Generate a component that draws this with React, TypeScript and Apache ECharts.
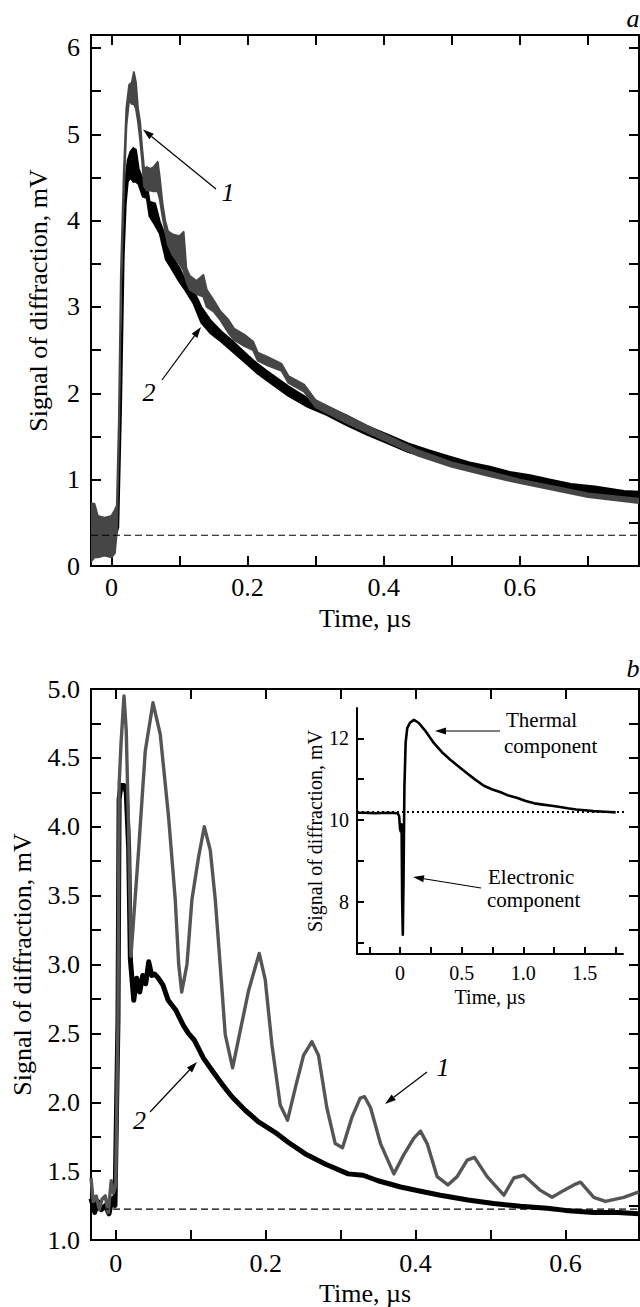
import React, { useEffect, useRef } from 'react';
import * as echarts from 'echarts';

const FONT = "'Liberation Serif', 'Times New Roman', Times, serif";

// ---------- Panel a (noisy bands: time, lower edge, upper edge) ----------
const aTimeGray = [-0.03, -0.025, -0.02, -0.01, 0, 0.005, 0.008, 0.011, 0.014, 0.018, 0.022, 0.026, 0.03, 0.033, 0.036, 0.039, 0.042, 0.045, 0.048, 0.052, 0.057, 0.062, 0.068, 0.071, 0.075, 0.079, 0.083, 0.09, 0.1, 0.106, 0.11, 0.115, 0.125, 0.135, 0.14, 0.15, 0.16, 0.172, 0.18, 0.195, 0.208, 0.215, 0.23, 0.25, 0.26, 0.283, 0.3, 0.35, 0.4, 0.45, 0.5, 0.55, 0.6, 0.65, 0.7, 0.775];
const aLowGray = [0.05, 0.1, 0.1, 0.12, 0.1, 0.15, 0.4, 1.5, 3.2, 4.3, 5.1, 5.4, 5.35, 5.35, 5.3, 5.15, 4.95, 4.7, 4.4, 4.35, 4.35, 4.34, 4.34, 4.25, 4.05, 3.88, 3.72, 3.6, 3.5, 3.42, 3.3, 3.2, 3.15, 3.12, 3.0, 2.95, 2.85, 2.7, 2.62, 2.55, 2.5, 2.38, 2.32, 2.26, 2.12, 2.02, 1.84, 1.64, 1.46, 1.28, 1.15, 1.05, 0.96, 0.88, 0.8, 0.73];
const aHighGray = [0.72, 0.72, 0.58, 0.56, 0.58, 0.65, 0.7, 1.7, 3.4, 4.5, 5.3, 5.57, 5.6, 5.72, 5.6, 5.3, 5.15, 4.85, 4.6, 4.62, 4.6, 4.62, 4.68, 4.5, 4.2, 4.0, 3.88, 3.84, 3.82, 3.87, 3.45, 3.36, 3.3, 3.37, 3.2, 3.08, 2.95, 2.85, 2.75, 2.68, 2.6, 2.47, 2.42, 2.34, 2.2, 2.1, 1.92, 1.72, 1.53, 1.34, 1.2, 1.1, 1.0, 0.92, 0.84, 0.78];

const aTimeBlack = [-0.03, 0.005, 0.01, 0.014, 0.018, 0.021, 0.024, 0.028, 0.032, 0.036, 0.04, 0.046, 0.052, 0.056, 0.064, 0.071, 0.08, 0.088, 0.1, 0.108, 0.12, 0.132, 0.145, 0.161, 0.18, 0.196, 0.213, 0.23, 0.26, 0.289, 0.316, 0.346, 0.376, 0.406, 0.436, 0.466, 0.496, 0.526, 0.556, 0.585, 0.615, 0.645, 0.675, 0.71, 0.753, 0.775];
const aLowBlack = [0.3, 0.3, 0.45, 1.8, 3.6, 4.2, 4.45, 4.5, 4.45, 4.45, 4.42, 4.28, 4.26, 4.05, 3.95, 3.85, 3.55, 3.45, 3.29, 3.2, 3.05, 2.82, 2.7, 2.6, 2.47, 2.36, 2.24, 2.14, 1.97, 1.84, 1.75, 1.63, 1.52, 1.42, 1.32, 1.25, 1.17, 1.11, 1.06, 1.0, 0.95, 0.9, 0.85, 0.82, 0.78, 0.77];
const aHighBlack = [0.45, 0.45, 0.6, 2.0, 3.8, 4.5, 4.7, 4.8, 4.84, 4.82, 4.6, 4.48, 4.42, 4.22, 4.2, 3.99, 3.8, 3.6, 3.45, 3.32, 3.2, 3.0, 2.85, 2.72, 2.59, 2.47, 2.35, 2.25, 2.08, 1.94, 1.85, 1.74, 1.62, 1.52, 1.42, 1.34, 1.27, 1.2, 1.15, 1.09, 1.05, 1.0, 0.95, 0.92, 0.87, 0.86];

const aBaseline = 0.356;
const aXTicks = [0, 0.1, 0.2, 0.3, 0.4, 0.5, 0.6, 0.7];
const aXLabels = [0, 0.2, 0.4, 0.6];
const aYTicks = [0, 0.5, 1, 1.5, 2, 2.5, 3, 3.5, 4, 4.5, 5, 5.5, 6];
const aYLabels = [0, 1, 2, 3, 4, 5, 6];

// ---------- Panel b ----------
const bTimeGray = [-0.033, -0.03, -0.026, -0.022, -0.018, -0.014, -0.01, -0.006, -0.003, 0, 0.003, 0.0045, 0.007, 0.011, 0.014, 0.0172, 0.0203, 0.0305, 0.0394, 0.0497, 0.0594, 0.0705, 0.0794, 0.084, 0.088, 0.095, 0.1016, 0.1105, 0.1181, 0.1261, 0.1328, 0.1394, 0.1461, 0.1559, 0.1661, 0.1772, 0.1861, 0.1914, 0.1994, 0.2083, 0.2194, 0.2292, 0.2394, 0.2505, 0.2617, 0.2705, 0.2816, 0.2928, 0.3025, 0.315, 0.3261, 0.332, 0.3399, 0.3532, 0.371, 0.3843, 0.3977, 0.4065, 0.4154, 0.4288, 0.443, 0.4554, 0.4688, 0.4785, 0.4954, 0.5177, 0.531, 0.5444, 0.5665, 0.5821, 0.5977, 0.611, 0.6199, 0.6377, 0.6532, 0.6777, 0.698];
const bValGray = [1.45, 1.28, 1.32, 1.22, 1.3, 1.32, 1.2, 1.43, 1.34, 1.4, 2.6, 4.3, 4.6, 4.95, 4.7, 3.97, 3.06, 3.83, 4.55, 4.9, 4.67, 4.07, 3.47, 3.0, 2.8, 3.0, 3.47, 3.78, 4.0, 3.83, 3.47, 2.99, 2.49, 2.25, 2.52, 2.81, 2.98, 3.08, 2.89, 2.42, 1.98, 1.87, 2.1, 2.34, 2.44, 2.34, 1.96, 1.7, 1.67, 1.89, 2.03, 2.04, 1.96, 1.7, 1.48, 1.62, 1.74, 1.79, 1.7, 1.46, 1.4, 1.46, 1.58, 1.6, 1.46, 1.325, 1.45, 1.47, 1.36, 1.31, 1.36, 1.4, 1.42, 1.31, 1.28, 1.31, 1.35];

const bTimeBlack = [-0.033, -0.028, -0.024, -0.019, -0.014, -0.009, -0.005, -0.001, 0.003, 0.0045, 0.007, 0.011, 0.014, 0.0172, 0.0195, 0.024, 0.028, 0.032, 0.036, 0.04, 0.044, 0.048, 0.052, 0.057, 0.063, 0.07, 0.08, 0.09, 0.097, 0.105, 0.117, 0.13, 0.142, 0.155, 0.173, 0.19, 0.213, 0.23, 0.253, 0.28, 0.31, 0.33, 0.35, 0.38, 0.41, 0.433, 0.47, 0.504, 0.54, 0.5755, 0.6, 0.6377, 0.67, 0.698];
const bValBlack = [1.3, 1.2, 1.28, 1.22, 1.25, 1.19, 1.3, 1.25, 2.6, 4.2, 4.3, 4.3, 4.25, 3.85, 3.04, 2.74, 2.9, 2.8, 2.92, 2.86, 3.02, 2.92, 2.93, 2.9, 2.85, 2.74, 2.67, 2.56, 2.5, 2.45, 2.32, 2.22, 2.13, 2.04, 1.94, 1.86, 1.78, 1.71, 1.625, 1.55, 1.48, 1.47, 1.43, 1.385, 1.35, 1.325, 1.29, 1.265, 1.245, 1.23, 1.215, 1.2, 1.2, 1.19];

const bBaseline = 1.224;
const bXTicks = [0, 0.1, 0.2, 0.3, 0.4, 0.5, 0.6];
const bXLabels = [0, 0.2, 0.4, 0.6];
const bYTicks = [1, 1.25, 1.5, 1.75, 2, 2.25, 2.5, 2.75, 3, 3.25, 3.5, 3.75, 4, 4.25, 4.5, 4.75, 5];
const bYLabels = [1, 1.5, 2, 2.5, 3, 3.5, 4, 4.5, 5];

// ---------- Inset ----------
const insetTime = [-0.35, -0.3, -0.2, -0.1, -0.02, -0.008, 0, 0.006, 0.012, 0.017, 0.022, 0.028, 0.035, 0.045, 0.058, 0.08, 0.112, 0.15, 0.2, 0.275, 0.34, 0.41, 0.48, 0.546, 0.61, 0.68, 0.75, 0.817, 0.88, 0.953, 1.02, 1.09, 1.16, 1.23, 1.3, 1.36, 1.43, 1.5, 1.57, 1.63, 1.7, 1.75];
const insetVal = [10.18, 10.18, 10.17, 10.18, 10.17, 10.1, 9.78, 9.72, 9.9, 8.0, 7.2, 8.6, 10.8, 11.9, 12.25, 12.38, 12.45, 12.38, 12.2, 11.88, 11.66, 11.47, 11.3, 11.14, 10.99, 10.84, 10.75, 10.68, 10.6, 10.54, 10.47, 10.41, 10.38, 10.35, 10.32, 10.29, 10.26, 10.24, 10.22, 10.21, 10.2, 10.19];
const insetBaseline = 10.2;
const insetBaselineEnd = [-0.35, 1.94];
const insetXTicks = [-0.25, 0, 0.25, 0.5, 0.75, 1, 1.25, 1.5, 1.75];
const insetXLabels = [0, 0.5, 1, 1.5];
const insetYTicks = [7, 8, 9, 10, 11, 12];
const insetYLabels = [8, 10, 12];

const pairs = (t: number[], v: number[]) => t.map((x, i) => [x, v[i]]);

function bandSeries(t: number[], lo: number[], hi: number[], color: string) {
  return {
    type: 'custom',
    xAxisIndex: 0,
    yAxisIndex: 0,
    clip: true,
    silent: true,
    data: [[0.3, 3]],
    renderItem: (_p: any, api: any) => {
      const pts: number[][] = [];
      for (let i = 0; i < t.length; i++) pts.push(api.coord([t[i], hi[i]]));
      for (let i = t.length - 1; i >= 0; i--) pts.push(api.coord([t[i], lo[i]]));
      return {
        type: 'polygon',
        shape: { points: pts },
        style: { fill: color, stroke: color, lineWidth: 2, lineJoin: 'round' },
      };
    },
  };
}

const tickStyle = { color: '#000', width: 2 };

function xAx(grid: number, min: number, max: number, ticks: number[], labels: number[] | null, fmt: any, opts: any = {}) {
  return {
    type: 'value',
    gridIndex: grid,
    min,
    max,
    position: labels ? 'bottom' : 'top',
    axisLine: { show: opts.line || false, onZero: false, lineStyle: { color: '#000', width: 2 } },
    axisTick: { show: true, inside: true, length: opts.tickLen || 10, customValues: ticks, lineStyle: tickStyle },
    axisLabel: labels
      ? { show: true, customValues: labels, formatter: fmt, fontSize: opts.fs || 26, fontFamily: FONT, color: '#000', margin: opts.margin || 8 }
      : { show: false },
    splitLine: { show: false },
    name: labels ? 'Time, µs' : '',
    nameLocation: 'middle',
    nameGap: opts.nameGap || 39,
    nameTextStyle: { fontSize: opts.fs || 26, fontFamily: FONT, color: '#000' },
  };
}

function yAx(grid: number, min: number, max: number, ticks: number[], labels: number[] | null, fmt: any, opts: any = {}) {
  return {
    type: 'value',
    gridIndex: grid,
    min,
    max,
    position: labels ? 'left' : 'right',
    axisLine: { show: opts.line || false, onZero: false, lineStyle: { color: '#000', width: 2 } },
    axisTick: { show: true, inside: true, length: opts.tickLen || 10, customValues: ticks, lineStyle: tickStyle },
    axisLabel: labels
      ? { show: true, customValues: labels, formatter: fmt, fontSize: opts.fs || 26, fontFamily: FONT, color: '#000', margin: opts.margin || 10 }
      : { show: false },
    splitLine: { show: false },
    name: labels ? 'Signal of diffraction, mV' : '',
    nameLocation: 'middle',
    nameGap: opts.nameGap || 38,
    nameTextStyle: { fontSize: opts.fs || 26, fontFamily: FONT, color: '#000' },
  };
}

function arrow(x1: number, y1: number, x2: number, y2: number) {
  const dx = x2 - x1, dy = y2 - y1;
  const L = Math.hypot(dx, dy);
  const ux = dx / L, uy = dy / L;
  const len = 11, hw = 3.5;
  const bx = x2 - ux * len, by = y2 - uy * len;
  return [
    { type: 'line', silent: true, shape: { x1, y1, x2: bx, y2: by }, style: { stroke: '#000', lineWidth: 1.2 } },
    { type: 'polygon', silent: true, shape: { points: [[x2, y2], [bx - uy * hw, by + ux * hw], [bx + uy * hw, by - ux * hw]] }, style: { fill: '#000' } },
  ];
}

function txt(text: string, x: number, y: number, size: number, italic: boolean, align = 'center') {
  return {
    type: 'text',
    silent: true,
    x,
    y,
    style: {
      text,
      fontSize: size,
      fontFamily: FONT,
      fontStyle: italic ? 'italic' : 'normal',
      fill: '#000',
      textAlign: align,
      textVerticalAlign: 'middle',
      align,
      verticalAlign: 'middle',
    },
  };
}

const fmtX = (v: number) => (Math.abs(v) < 1e-9 ? '0' : v.toFixed(1));
const fmtInt = (v: number) => String(Math.round(v));
const fmt1 = (v: number) => v.toFixed(1);

export default function App() {
  const ref = useRef<HTMLDivElement>(null);
  useEffect(() => {
    if (!ref.current) return;
    const chart = echarts.init(ref.current, null, { renderer: 'svg' });
    const option: any = {
      animation: false,
      backgroundColor: '#fff',
      grid: [
        { left: 91, top: 35, width: 548, height: 531, show: true, borderColor: '#000', borderWidth: 2, backgroundColor: 'transparent' },
        { left: 91, top: 689, width: 548, height: 554, show: true, borderColor: '#000', borderWidth: 2, backgroundColor: 'transparent' },
        { left: 357, top: 708, width: 266, height: 246, show: false },
      ],
      xAxis: [
        xAx(0, -0.03, 0.775, aXTicks, aXLabels, fmtX, { nameGap: 39 }),
        xAx(0, -0.03, 0.775, aXTicks, null, null),
        xAx(1, -0.033, 0.698, bXTicks, bXLabels, fmtX, { nameGap: 40, margin: 10 }),
        xAx(1, -0.033, 0.698, bXTicks, null, null),
        xAx(2, -0.35, 1.81, insetXTicks, insetXLabels, fmtX, { line: true, tickLen: 7, fs: 20, nameGap: 33, margin: 9 }),
      ],
      yAxis: [
        yAx(0, 0, 6.15, aYTicks, aYLabels, fmtInt, { nameGap: 40, margin: 11 }),
        yAx(0, 0, 6.15, aYTicks, null, null),
        yAx(1, 1, 5, bYTicks, bYLabels, fmt1, { nameGap: 56, margin: 11 }),
        yAx(1, 1, 5, bYTicks, null, null),
        yAx(2, 6.73, 12.74, insetYTicks, insetYLabels, fmtInt, { line: true, tickLen: 7, fs: 20, nameGap: 28, margin: 8 }),
      ],
      series: [
        // panel a
        bandSeries(aTimeBlack, aLowBlack, aHighBlack, '#000'),
        bandSeries(aTimeGray, aLowGray, aHighGray, '#464646'),
        {
          type: 'line', xAxisIndex: 0, yAxisIndex: 0, symbol: 'none', silent: true,
          data: [[-0.03, aBaseline], [0.775, aBaseline]],
          lineStyle: { color: '#000', width: 1.2, type: [7, 4] },
        },
        // panel b
        {
          type: 'line', xAxisIndex: 2, yAxisIndex: 2, symbol: 'none', silent: true,
          data: pairs(bTimeBlack, bValBlack),
          lineStyle: { color: '#000', width: 5, join: 'round' },
        },
        {
          type: 'line', xAxisIndex: 2, yAxisIndex: 2, symbol: 'none', silent: true,
          data: pairs(bTimeGray, bValGray),
          lineStyle: { color: '#555555', width: 3.4, join: 'round' },
        },
        {
          type: 'line', xAxisIndex: 2, yAxisIndex: 2, symbol: 'none', silent: true,
          data: [[-0.033, bBaseline], [0.698, bBaseline]],
          lineStyle: { color: '#000', width: 1.2, type: [7, 4] },
        },
        // inset
        {
          type: 'line', xAxisIndex: 4, yAxisIndex: 4, symbol: 'none', silent: true, clip: false,
          data: [[insetBaselineEnd[0], insetBaseline], [insetBaselineEnd[1], insetBaseline]],
          lineStyle: { color: '#000', width: 2, type: [2, 3] },
        },
        {
          type: 'line', xAxisIndex: 4, yAxisIndex: 4, symbol: 'none', silent: true,
          data: pairs(insetTime, insetVal),
          lineStyle: { color: '#000', width: 2.6, join: 'round' },
        },
      ],
      graphic: [
        txt('a', 633, 18, 26, true),
        txt('b', 633, 668, 26, true),
        txt('1', 228, 192, 26, true),
        ...arrow(216, 189, 143, 129.5),
        txt('2', 149, 392, 26, true),
        ...arrow(162, 380, 201, 327),
        txt('1', 443, 1067, 26, true),
        ...arrow(427, 1072, 385, 1104),
        txt('2', 139.5, 1120.5, 26, true),
        ...arrow(150, 1112, 197, 1062),
        txt('Thermal', 506, 720, 21, false, 'left'),
        txt('component', 504, 746, 21, false, 'left'),
        ...arrow(500, 731, 435, 731),
        txt('Electronic', 488, 877, 21, false, 'left'),
        txt('component', 487, 900, 21, false, 'left'),
        ...arrow(481, 888, 413, 877),
      ],
    };
    chart.setOption(option);
    return () => chart.dispose();
  }, []);
  return <div ref={ref} style={{ position: 'absolute', left: 0, top: 0, width: 640, height: 1307 }} />;
}
